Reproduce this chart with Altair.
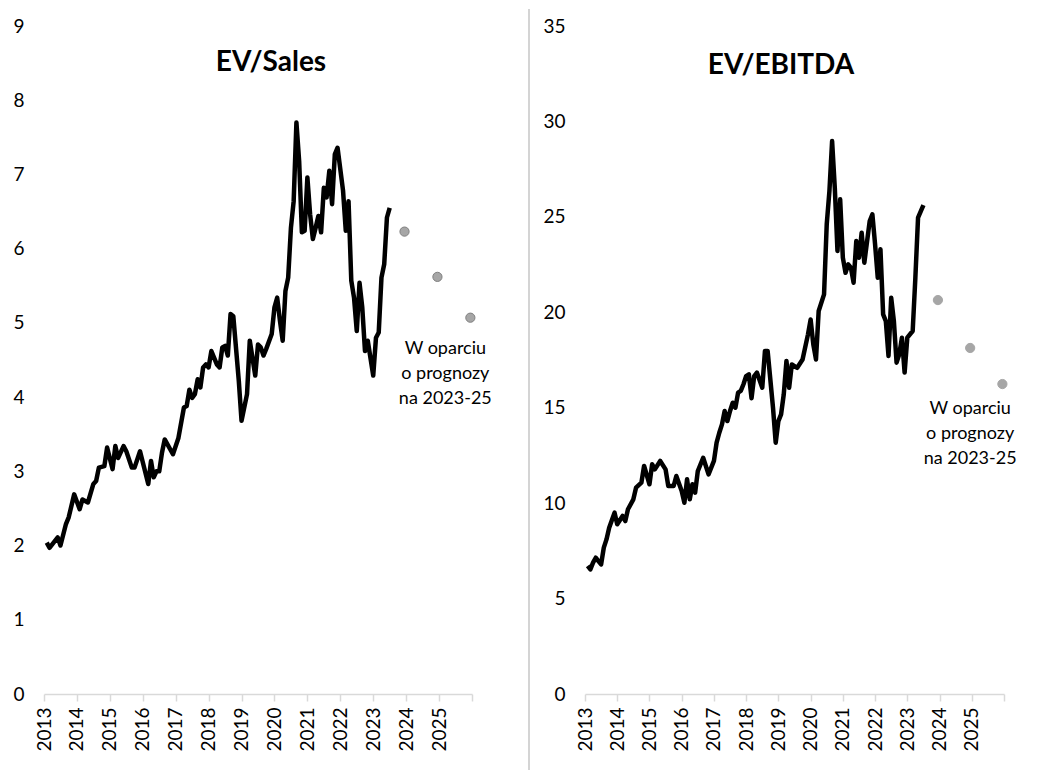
import altair as alt
import pandas as pd

FONT = "Lato"

# ---- data ----
years = list(range(2013, 2027))  # axis tick positions (2026 has no label)

sales_month = [1, 2, 5, 6, 8, 9, 11, 13, 14, 15, 16, 18, 19, 20, 22, 23, 25, 26, 27, 29, 30, 32, 33, 35,
               38, 39, 40, 41, 42, 43, 44, 47, 49, 51, 52, 53, 54, 55, 56, 57, 58, 59, 60, 61, 63, 64, 65,
               66, 67, 68, 69, 71, 72, 74, 75, 77, 78, 79, 80, 81, 83, 84, 85, 86, 87, 88, 89, 90, 91, 92,
               93, 94, 95, 96, 97, 98, 99, 100, 101, 102, 103, 104, 105, 106, 107, 109, 110, 111, 112, 113,
               114, 115, 116, 117, 118, 120, 121, 122, 123, 124, 125, 126]
sales_value = [2.04, 1.97, 2.11, 2.00, 2.29, 2.38, 2.69, 2.49, 2.62, 2.60, 2.58, 2.83, 2.87, 3.05, 3.07, 3.32,
               3.03, 3.34, 3.18, 3.34, 3.27, 3.05, 3.05, 3.27, 2.83, 3.14, 2.92, 3.00, 3.00, 3.25, 3.43, 3.23,
               3.45, 3.86, 3.88, 4.10, 3.99, 4.04, 4.24, 4.13, 4.40, 4.44, 4.40, 4.62, 4.44, 4.40, 4.67, 4.69,
               4.56, 5.12, 5.09, 4.22, 3.68, 4.04, 4.76, 4.29, 4.71, 4.67, 4.56, 4.65, 4.85, 5.21, 5.34, 5.03,
               4.76, 5.43, 5.61, 6.28, 6.64, 7.70, 7.18, 6.22, 6.24, 6.96, 6.46, 6.13, 6.28, 6.44, 6.22, 6.82,
               6.69, 7.05, 6.60, 7.27, 7.36, 6.78, 6.24, 6.64, 5.57, 5.34, 4.89, 5.54, 5.21, 4.62, 4.76, 4.29,
               4.80, 4.87, 5.61, 5.79, 6.42, 6.55]

ebitda_month = [1, 2, 3, 4, 6, 7, 8, 9, 11, 12, 14, 15, 16, 18, 19, 21, 22, 24, 25, 26, 28, 30, 31, 33, 34,
                36, 37, 38, 39, 40, 41, 42, 44, 46, 48, 49, 50, 51, 52, 53, 54, 55, 56, 57, 58, 59, 60, 61,
                62, 63, 64, 66, 67, 68, 70, 71, 72, 73, 74, 75, 76, 77, 79, 81, 83, 84, 85, 86, 87, 89, 90,
                91, 92, 93, 94, 95, 96, 97, 98, 99, 100, 101, 102, 103, 104, 106, 107, 108, 109, 110, 111,
                112, 113, 114, 115, 116, 117, 118, 119, 120, 122, 123, 124, 126]
ebitda_value = [6.71, 6.53, 6.88, 7.14, 6.79, 7.67, 8.10, 8.71, 9.50, 8.89, 9.33, 9.06, 9.68, 10.20, 10.81,
                11.07, 11.95, 10.99, 12.04, 11.77, 12.21, 11.77, 10.90, 10.90, 11.42, 10.64, 10.02, 11.25,
                10.20, 10.99, 10.55, 11.68, 12.38, 11.51, 12.21, 13.17, 13.69, 14.13, 14.83, 14.30, 14.83,
                15.26, 15.00, 15.79, 15.88, 16.23, 16.66, 16.75, 15.50, 16.66, 16.84, 16.05, 17.97, 17.97,
                15.00, 13.17, 14.30, 14.65, 15.70, 17.45, 16.05, 17.27, 17.09, 17.53, 18.83, 19.62, 18.32,
                17.53, 20.07, 20.94, 24.61, 26.35, 28.97, 26.53, 23.21, 25.92, 22.86, 22.07, 22.51, 22.34,
                21.55, 23.73, 22.86, 24.17, 22.60, 24.78, 25.13, 23.56, 21.81, 23.30, 19.89, 19.54, 17.71,
                20.76, 19.54, 17.36, 17.80, 18.67, 16.84, 18.67, 19.02, 21.81, 24.96, 25.62]

forecast_x = [2023.95, 2024.95, 2025.95]
sales_forecast = [6.23, 5.62, 5.07]
ebitda_forecast = [20.64, 18.13, 16.24]

titles = ["EV/Sales", "EV/EBITDA"]
note_text = "W oparciu\no prognozy\nna 2023-25"


def panel(months, values, fc_values, title, ymax, ystep, width, title_x, title_y,
          note_x, note_y, point_stroke, divider):
    line_df = pd.DataFrame({"x": [2013 + m / 12 for m in months], "v": values})
    fc_df = pd.DataFrame({"x": forecast_x, "v": fc_values})
    note_df = pd.DataFrame({"x": [note_x], "v": [note_y], "t": [note_text]})
    title_df = pd.DataFrame({"t": [title]})

    xenc = alt.X("x:Q",
                 scale=alt.Scale(domain=[2013, 2026], nice=False, zero=False),
                 axis=alt.Axis(values=years, format="d", labelAngle=-90, title=None, grid=False,
                               labelExpr="datum.value == 2026 ? '' : datum.label",
                               labelOverlap=False, labelBound=False, labelFlush=False,
                               domainColor="#d9d9d9", tickColor="#d9d9d9", tickSize=7,
                               domainWidth=1.5, tickWidth=1.5,
                               labelFontSize=19, labelPadding=6, labelFont=FONT,
                               labelColor="#000000"))
    yenc = alt.Y("v:Q",
                 scale=alt.Scale(domain=[0, ymax], nice=False, zero=True),
                 axis=alt.Axis(values=list(range(0, ymax + 1, ystep)), format="d", domain=False,
                               ticks=False, grid=False, title=None, labelFontSize=19,
                               labelPadding=20, labelOverlap=False,
                               labelFont=FONT, labelColor="#000000"))

    line = alt.Chart(line_df).mark_line(color="#000000", strokeWidth=4.5, strokeJoin="round").encode(
        x=xenc, y=yenc)
    pts = alt.Chart(fc_df).mark_point(filled=True, size=85, fill="#a6a6a6", opacity=1,
                                      stroke=point_stroke, strokeWidth=1).encode(x=xenc, y=yenc)
    note = alt.Chart(note_df).mark_text(fontSize=18, font=FONT, lineBreak="\n", lineHeight=25,
                                        align="center", baseline="middle", color="#000000").encode(
        x=xenc, y=yenc, text="t:N")
    ttl = alt.Chart(title_df).mark_text(fontSize=28, fontWeight="bold", font=FONT,
                                        align="center", baseline="middle", color="#000000").encode(
        x=alt.value(title_x), y=alt.value(title_y), text="t:N")
    layers = [line, pts, note, ttl]
    if divider:
        sep = alt.Chart(title_df).mark_rule(color="#d4d4d4", strokeWidth=2, clip=False).encode(
            x=alt.value(485), y=alt.value(-17), y2=alt.value(745))
        layers.append(sep)
    return alt.layer(*layers).properties(width=width, height=668)


left = panel(sales_month, sales_value, sales_forecast, titles[0], 9, 1, 428, 227, 37,
             2025.19, 4.65, "#808080", True)
right = panel(ebitda_month, ebitda_value, ebitda_forecast, titles[1], 35, 5, 419, 196, 40,
              2024.95, 14.93, "#a6a6a6", False)

chart = alt.hconcat(left, right, spacing=113, bounds="flush").properties(
    padding={"left": 4, "top": 0, "right": 0, "bottom": 0}
).configure(background="#ffffff").configure_view(
    strokeWidth=0, strokeOpacity=0
).configure_axis(grid=False, labelOverlap=False)

chart.save("out.html", embed_options={"renderer": "svg", "actions": False})
